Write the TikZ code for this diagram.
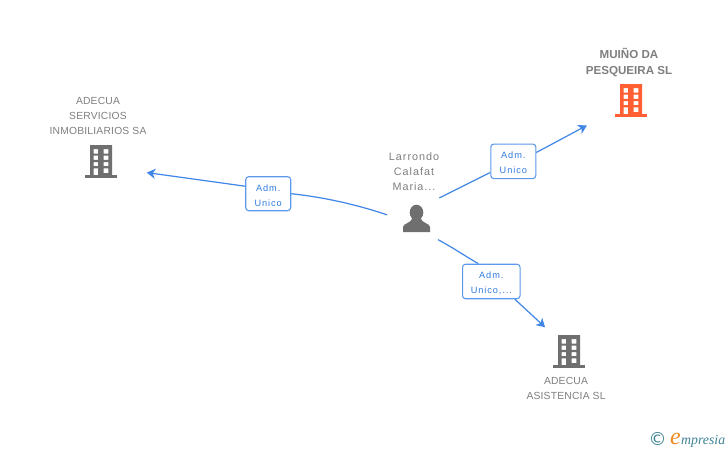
\documentclass[tikz,border=0pt]{standalone}
\usepackage{fontspec}
\setmainfont{Liberation Sans}
\newfontfamily\lblfont[LetterSpace=2]{Liberation Sans}
\newfontfamily\perfont[LetterSpace=9]{Liberation Sans}
\newfontfamily\boxfont[LetterSpace=10]{Liberation Sans}
\newfontfamily\logofont[Scale=1]{Liberation Serif}
\usetikzlibrary{arrows.meta}
\definecolor{linkblue}{HTML}{3F86E6}
\definecolor{boxblue}{HTML}{5C99EC}
\definecolor{txtblue}{HTML}{2F7BE0}
\definecolor{iconGray}{HTML}{6F6F6F}
\definecolor{txtGray}{HTML}{7F7F7F}
\definecolor{iconOrange}{HTML}{FF5F32}
\definecolor{logoTeal}{HTML}{3F8296}
\definecolor{logoOrange}{HTML}{F28C1E}
\newcommand{\boxstrut}{\rule{0pt}{10pt}}
\tikzset{
  x=1pt,y=-1pt,
  namelabel/.style={text=txtGray,align=center,font=\fontsize{10.3}{15}\selectfont\lblfont,inner sep=0pt},
  personlabel/.style={text=txtGray,align=center,font=\fontsize{10.8}{15.2}\selectfont\perfont,inner sep=0pt},
  boldlabel/.style={text=txtGray,align=center,font=\fontsize{11.6}{16}\selectfont\bfseries,inner sep=0pt},
  rolebox/.style={draw=boxblue,line width=1.1pt,rounded corners=3pt,fill=white,text=txtblue,align=center,
    font=\fontsize{9.2}{15}\selectfont\boxfont,inner sep=0pt},
  anchorzone/.style={circle,inner sep=0pt,outer sep=0pt,minimum size=#1},
  link/.style={draw=linkblue,line width=1.2pt},
  linkarrow/.style={link,-{Stealth[length=8.5pt,width=10pt,inset=2.5pt]}},
  pics/tower/.style={code={
    \fill[#1,even odd rule] (-11,-16.5) rectangle (11,13.5)
      (-7.3,-12.3) rectangle (-2.9,-8) (2.5,-12.3) rectangle (7.3,-8)
      (-7.3,-5.8) rectangle (-2.9,-1.6) (2.5,-5.8) rectangle (7.3,-1.6)
      (-7.3,0.6) rectangle (-2.9,4.6) (2.5,0.6) rectangle (7.3,4.6)
      (-7.3,6.8) rectangle (-2.9,13.5) (2.5,6.8) rectangle (7.3,11.5);
    \fill[#1] (-16,13.5) rectangle (16,16.5);
  }},
  pics/personicon/.style={code={
    \fill[iconGray] (0,-5.5) ellipse (6.8 and 7.8);
    \fill[iconGray] (-13.5,14) -- (-13.5,9) .. controls (-13.5,5.5) and (-5,5) .. (-4,0)
       -- (4,0) .. controls (5,5) and (13.5,5.5) .. (13.5,9) -- (13.5,14) -- cycle;
  }}
}
\begin{document}
\begin{tikzpicture}
\useasboundingbox (0,0) rectangle (728,450);
\fill[white] (0,0) rectangle (728,450);

% icons
\pic at (101,161.5) {tower=iconGray};
\pic at (631,100.5) {tower=iconOrange};
\pic at (569,351.5) {tower=iconGray};
\pic at (416.5,218) {personicon};

% anchor zones
\node[anchorzone=60pt] (person) at (417,218) {};
\node[anchorzone=94pt] (adsi) at (101,162) {};
\node[anchorzone=101pt] (muino) at (631,101) {};
\node[anchorzone=69pt] (asis) at (569,352) {};

% role boxes
\node[rolebox,minimum width=45pt,minimum height=34pt] (boxa) at (268.2,193.7) {\boxstrut Adm.\\Unico};
\node[rolebox,minimum width=45pt,minimum height=34.5pt] (boxb) at (513.3,161.3) {\boxstrut Adm.\\Unico};
\node[rolebox,minimum width=57.5pt,minimum height=34.5pt] (boxc) at (491.3,281.5) {\boxstrut Adm.\\Unico,...};

% connectors
\draw[link] (person.174) .. controls (355,204) and (322,197) .. (boxa.east);
\draw[linkarrow] (boxa.162.8) -- (adsi.-13.5);
\draw[link] (person.42) -- (boxb.206.6);
\draw[linkarrow] (boxb.21.6) -- (muino.209.6);
\draw[link] (person.-46) .. controls (452,247) and (465,256) .. (boxc.126.6);
\draw[linkarrow] (boxc.-37.3) -- (asis.134);

% labels
\node[boldlabel] (lmuino) at (629,62) {MUIÑO DA\\PESQUEIRA SL};
\node[namelabel] (ladsi) at (98,116) {ADECUA\\SERVICIOS\\INMOBILIARIOS SA};
\node[personlabel] (lperson) at (414,171.5) {Larrondo\\Calafat\\Maria...};
\node[namelabel] (lasis) at (566,388.5) {ADECUA\\ASISTENCIA SL};

% logo
\node[inner sep=0pt,text=logoTeal,font=\fontsize{18}{18}\selectfont\fontspec{DejaVu Sans}] (copyr) at (657.5,438.5) {©};
\node[inner sep=0pt,anchor=base west,text=logoOrange,font=\fontsize{24}{24}\selectfont\logofont\itshape] (logoe) at (670,444) {e};
\node[inner sep=0pt,anchor=base west,text=logoTeal,font=\fontsize{13.8}{14}\selectfont\logofont\itshape] (logot) at (681,444) {mpresia};
\end{tikzpicture}
\end{document}
